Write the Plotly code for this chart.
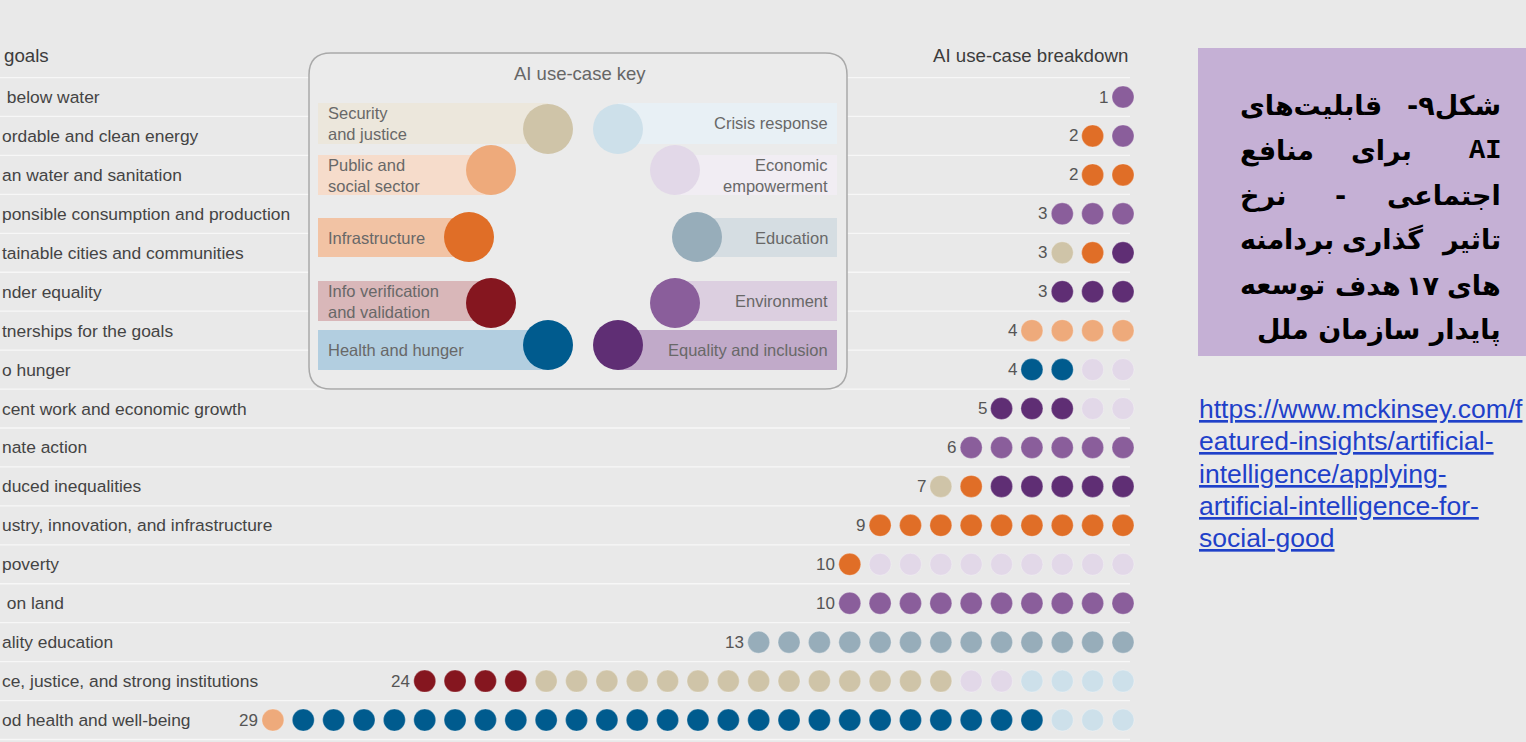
import plotly.graph_objects as go

W, H = 1526, 742
BG = "#e9e9e9"
TXT = "#444444"
FONT = "Liberation Sans"

# ---- data -------------------------------------------------------------
# goal labels as they show at the cropped left edge of the slide
GOALS = [
    "\u00a0below water",
    "ordable and clean energy",
    "an water and sanitation",
    "ponsible consumption and production",
    "tainable cities and communities",
    "nder equality",
    "tnerships for the goals",
    "o hunger",
    "cent work and economic growth",
    "nate action",
    "duced inequalities",
    "ustry, innovation, and infrastructure",
    "poverty",
    "\u00a0on land",
    "ality education",
    "ce, justice, and strong institutions",
    "od health and well-being",
]

# number of use cases per goal, one list per use-case domain (stacking order left -> right)
PUBLIC      = [0, 0, 0, 0, 0, 0, 4, 0, 0, 0, 0, 0, 0, 0, 0, 0, 1]
INFO        = [0, 0, 0, 0, 0, 0, 0, 0, 0, 0, 0, 0, 0, 0, 0, 4, 0]
SECURITY    = [0, 0, 0, 0, 1, 0, 0, 0, 0, 0, 1, 0, 0, 0, 0, 14, 0]
INFRA       = [0, 1, 2, 0, 1, 0, 0, 0, 0, 0, 1, 9, 1, 0, 0, 0, 0]
HEALTH      = [0, 0, 0, 0, 0, 0, 0, 2, 0, 0, 0, 0, 0, 0, 0, 0, 25]
EQUALITY    = [0, 0, 0, 0, 1, 3, 0, 0, 3, 0, 5, 0, 0, 0, 0, 0, 0]
ENVIRONMENT = [1, 1, 0, 3, 0, 0, 0, 0, 0, 6, 0, 0, 0, 10, 0, 0, 0]
ECONOMIC    = [0, 0, 0, 0, 0, 0, 0, 2, 2, 0, 0, 0, 9, 0, 0, 2, 0]
EDUCATION   = [0, 0, 0, 0, 0, 0, 0, 0, 0, 0, 0, 0, 0, 0, 13, 0, 0]
CRISIS      = [0, 0, 0, 0, 0, 0, 0, 0, 0, 0, 0, 0, 0, 0, 0, 4, 3]

USE_CASES = [
    ("Public and social sector", PUBLIC, "#eeaa7b", "#f6dccb"),
    ("Info verification and validation", INFO, "#85161f", "#d9b7b9"),
    ("Security and justice", SECURITY, "#cfc4a8", "#ece7dc"),
    ("Infrastructure", INFRA, "#e06e27", "#f2c3a4"),
    ("Health and hunger", HEALTH, "#005b8e", "#b2cee0"),
    ("Equality and inclusion", EQUALITY, "#5f2e74", "#c1aac9"),
    ("Environment", ENVIRONMENT, "#8a5e9b", "#dccfe0"),
    ("Economic empowerment", ECONOMIC, "#e2d8e8", "#f1edf3"),
    ("Education", EDUCATION, "#97adba", "#d5dde2"),
    ("Crisis response", CRISIS, "#cde0ea", "#e8f0f5"),
]

KEY_LEFT = ["Security and justice", "Public and social sector", "Infrastructure",
            "Info verification and validation", "Health and hunger"]
KEY_RIGHT = ["Crisis response", "Economic empowerment", "Education",
             "Environment", "Equality and inclusion"]
KEY_TEXT = {
    "Security and justice": "Security<br>and justice",
    "Public and social sector": "Public and<br>social sector",
    "Info verification and validation": "Info verification<br>and validation",
    "Economic empowerment": "Economic<br>empowerment",
}

RLM = "\u200f"
TITLE_LINES = [
    [("شکل۹-" + RLM, 1503, "right"), ("قابلیت‌های", 1238, "left")],
    [("<span style='font-family:Liberation Mono'>AI</span>", 1503, "right"),
     ("برای", 1381, "center"), ("منافع", 1238, "left")],
    [("اجتماعی", 1503, "right"), ("-", 1340, "center"), ("نرخ", 1238, "left")],
    [("تاثیر", 1503, "right"), ("گذاری", 1382, "center"), ("بردامنه", 1238, "left")],
    [("های", 1503, "right"), ("۱۷", 1422, "center"), ("هدف", 1368, "center"),
     ("توسعه", 1238, "left")],
    [("پایدار سازمان ملل", 1503, "right")],
]
LINK_LINES = [
    "https://www.mckinsey.com/f",
    "eatured-insights/artificial-",
    "intelligence/applying-",
    "artificial-intelligence-for-",
    "social-good",
]

# ---- geometry ---------------------------------------------------------
DOT_STEP, DOT_RIGHT = 30.36, 1123
ROW_STEP, ROW_TOP = 38.94, 97


def px(x):
    return x / W


def py(y):
    return 1 - y / H


totals = [sum(uc[1][r] for uc in USE_CASES) for r in range(len(GOALS))]

fig = go.Figure()
starts = [0] * len(GOALS)
for name, counts, color, _ in USE_CASES:
    xs, ys = [], []
    for r, c in enumerate(counts):
        for j in range(starts[r], starts[r] + c):
            xs.append(j - (totals[r] - 1))
            ys.append(r)
        starts[r] += c
    fig.add_trace(go.Scatter(
        x=xs, y=ys, mode="markers", name=name, hoverinfo="name",
        marker=dict(size=22, color=color, line=dict(width=0.6, color="rgba(255,255,255,0.45)")),
    ))

shapes = []
# row separators
for r in range(-1, len(GOALS)):
    shapes.append(dict(type="line", xref="paper", yref="y", x0=0, x1=px(1130),
                       y0=r + 0.5, y1=r + 0.5, line=dict(color="#f7f7f7", width=1.3),
                       layer="below"))

# key box (rounded)
bx0, bx1, by0, by1, rad = 309, 847, 53, 389, 22
path = (f"M {px(bx0 + rad)},{py(by0)} L {px(bx1 - rad)},{py(by0)} "
        f"Q {px(bx1)},{py(by0)} {px(bx1)},{py(by0 + rad)} L {px(bx1)},{py(by1 - rad)} "
        f"Q {px(bx1)},{py(by1)} {px(bx1 - rad)},{py(by1)} L {px(bx0 + rad)},{py(by1)} "
        f"Q {px(bx0)},{py(by1)} {px(bx0)},{py(by1 - rad)} L {px(bx0)},{py(by0 + rad)} "
        f"Q {px(bx0)},{py(by0)} {px(bx0 + rad)},{py(by0)} Z")
shapes.append(dict(type="path", xref="paper", yref="paper", path=path,
                   fillcolor="#ebebeb", line=dict(color="#a9a9a9", width=1.5), layer="below"))

uc_style = {u[0]: (u[2], u[3]) for u in USE_CASES}
bars_y = [(103, 144), (155, 195), (218, 257), (281, 321), (330, 370)]
circ_y = [129, 170, 237, 303, 345]
circ_dx = [548, 491, 469, 491, 548]
R = 25
annotations = []
for i in range(5):
    for side, name in (("L", KEY_LEFT[i]), ("R", KEY_RIGHT[i])):
        dot, tint = uc_style[name]
        cx = circ_dx[i] if side == "L" else 1166 - circ_dx[i]
        xa, xb = (318, cx) if side == "L" else (cx, 837)
        shapes.append(dict(type="rect", xref="paper", yref="paper", x0=px(xa), x1=px(xb),
                           y0=py(bars_y[i][1]), y1=py(bars_y[i][0]), fillcolor=tint,
                           line=dict(width=0), layer="below"))
        shapes.append(dict(type="circle", xref="paper", yref="paper", x0=px(cx - R), x1=px(cx + R),
                           y0=py(circ_y[i] + R), y1=py(circ_y[i] - R), fillcolor=dot,
                           line=dict(width=0), layer="below"))
        annotations.append(dict(
            text=KEY_TEXT.get(name, name), xref="paper", yref="paper",
            x=px(326 if side == "L" else 830), y=py(sum(bars_y[i]) / 2),
            xanchor="left" if side == "L" else "right", yanchor="middle",
            align="left" if side == "L" else "right", showarrow=False,
            font=dict(family=FONT, size=16.5, color="#686868")))

annotations.append(dict(text="AI use-case key", xref="paper", yref="paper", x=px(580), y=py(73),
                        yanchor="middle", showarrow=False,
                        font=dict(family=FONT, size=18.5, color="#666666")))

# headers
annotations.append(dict(text="goals", xref="paper", yref="paper",
                        x=px(2), y=py(56), xanchor="left", yanchor="middle", showarrow=False,
                        font=dict(family=FONT, size=18.7, color="#3c3c3c")))
annotations.append(dict(text="AI use-case breakdown", xref="paper", yref="paper",
                        x=px(1130), y=py(56), xanchor="right", yanchor="middle", showarrow=False,
                        font=dict(family=FONT, size=18.7, color="#3c3c3c")))

# goal labels and totals
for r, goal in enumerate(GOALS):
    annotations.append(dict(text=goal, xref="paper", yref="y", x=0, y=r,
                            xanchor="left", yanchor="middle", showarrow=False,
                            font=dict(family=FONT, size=17.4, color=TXT)))
    annotations.append(dict(text=str(totals[r]), xref="x", yref="y", x=-(totals[r] - 1), y=r,
                            xanchor="right", yanchor="middle", xshift=-13, showarrow=False,
                            font=dict(family=FONT, size=17, color="#555555")))

# Persian caption box
shapes.append(dict(type="rect", xref="paper", yref="paper", x0=px(1198), x1=px(1530),
                   y0=py(356), y1=py(48), fillcolor="#c5b0d5", line=dict(width=0), layer="below"))
for k, words in enumerate(TITLE_LINES):
    yc = 106 + 44.8 * k
    for text, x, anchor in words:
        annotations.append(dict(text=f"<b>{text}</b>", xref="paper", yref="paper", x=px(x), y=py(yc),
                                xanchor=anchor, yanchor="middle", showarrow=False,
                                font=dict(family="DejaVu Sans", size=27, color="#000000")))

for k, line in enumerate(LINK_LINES):
    annotations.append(dict(text=f"<u>{line}</u>", xref="paper", yref="paper", x=px(1197),
                            y=py(409 + 32.3 * k), xanchor="left", yanchor="middle",
                            showarrow=False, font=dict(family=FONT, size=26.5, color="#1f41c9")))

fig.update_layout(
    width=W, height=H,
    margin=dict(l=0, r=0, t=0, b=0),
    paper_bgcolor=BG, plot_bgcolor=BG,
    showlegend=False,
    shapes=shapes, annotations=annotations,
    xaxis=dict(range=[-DOT_RIGHT / DOT_STEP, (W - DOT_RIGHT) / DOT_STEP], visible=False, fixedrange=True),
    yaxis=dict(range=[(H - ROW_TOP) / ROW_STEP, -ROW_TOP / ROW_STEP], visible=False, fixedrange=True),
)

fig.write_html("out.html", config={"displayModeBar": False},
               post_script="document.body.style.margin='0';document.body.style.overflow='hidden';")
